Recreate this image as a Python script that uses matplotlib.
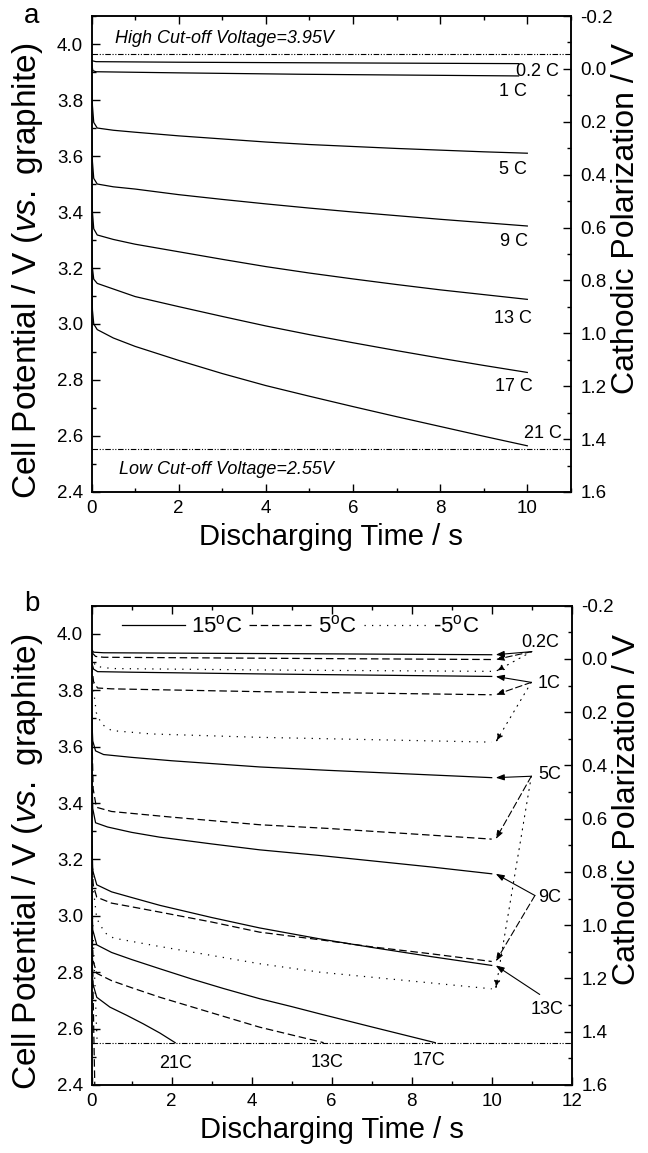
import matplotlib.pyplot as plt
from matplotlib.ticker import MultipleLocator, FormatStrFormatter

plt.rcParams['font.family'] = ['Liberation Sans', 'DejaVu Sans']
plt.rcParams['mathtext.fontset'] = 'custom'
plt.rcParams['mathtext.rm'] = 'Liberation Sans'
plt.rcParams['mathtext.it'] = 'Liberation Sans:italic'
plt.rcParams['axes.unicode_minus'] = False

# ---- panel a : 15 C, rates 0.2C ... 21C ----
a_t_02 = [0, 0.02, 0.1, 2, 5, 9.8]
a_v_02 = [3.945, 3.940, 3.937, 3.935, 3.933, 3.930]
a_t_1 = [0, 0.03, 0.1, 2, 4.8, 9.8]
a_v_1 = [3.930, 3.905, 3.901, 3.897, 3.892, 3.886]
a_t = [0, 0.02, 0.05, 0.13, 0.5, 1, 2, 3, 4, 5, 6, 7, 8, 9, 10]
a_v_5 = [3.90, 3.78, 3.72, 3.700, 3.692, 3.685, 3.672, 3.661, 3.650,
         3.641, 3.634, 3.627, 3.621, 3.615, 3.610]
a_v_9 = [3.70, 3.58, 3.52, 3.500, 3.490, 3.482, 3.462, 3.445, 3.429,
         3.414, 3.400, 3.387, 3.374, 3.362, 3.350]
a_v_13 = [3.50, 3.40, 3.34, 3.318, 3.302, 3.285, 3.258, 3.231, 3.205,
          3.182, 3.161, 3.141, 3.122, 3.105, 3.088]
a_v_17 = [3.30, 3.20, 3.16, 3.145, 3.125, 3.098, 3.062, 3.027, 2.993,
          2.962, 2.933, 2.905, 2.878, 2.852, 2.827]
a_v_21 = [3.20, 3.05, 3.00, 2.980, 2.950, 2.920, 2.870, 2.823, 2.780,
          2.742, 2.705, 2.669, 2.634, 2.599, 2.565]
a_high_cut = 3.965
a_low_cut = 2.554

# ---- panel b : 15, 5, -5 degC ----
# 15 degC (solid)
b15_t_02 = [0, 0.05, 0.3, 3, 6, 10]
b15_v_02 = [3.945, 3.935, 3.933, 3.931, 3.929, 3.926]
b15_t_1 = [0, 0.05, 0.15, 1, 4.2, 10]
b15_v_1 = [3.900, 3.875, 3.866, 3.864, 3.858, 3.849]
b15_t_5 = [0, 0.03, 0.1, 0.3, 1, 2, 4.2, 5.9, 10]
b15_v_5 = [3.72, 3.62, 3.585, 3.572, 3.562, 3.550, 3.528, 3.516, 3.490]
b15_t_9 = [0, 0.03, 0.1, 0.4, 1, 1.7, 3, 4.2, 5.7, 7, 8.5, 10]
b15_v_9 = [3.55, 3.38, 3.33, 3.315, 3.296, 3.279, 3.255, 3.234, 3.214, 3.195, 3.173, 3.149]
b15_t_13 = [0, 0.03, 0.13, 0.5, 1, 1.71, 3, 4.2, 5.71, 7, 8.5, 10]
b15_v_13 = [3.30, 3.16, 3.11, 3.085, 3.065, 3.037, 2.994, 2.957, 2.918, 2.888, 2.855, 2.824]
b15_t_17 = [0, 0.03, 0.13, 0.5, 1, 1.71, 2.5, 3.3, 4.2, 5, 5.71, 7, 8.59]
b15_v_17 = [3.10, 2.95, 2.897, 2.870, 2.845, 2.812, 2.776, 2.742, 2.706, 2.678,
            2.652, 2.606, 2.550]
b15_t_21 = [0, 0.03, 0.13, 0.46, 0.88, 1.29, 1.71, 2.09]
b15_v_21 = [2.95, 2.76, 2.711, 2.676, 2.647, 2.617, 2.584, 2.550]
# 5 degC (dashed)
b5_t_02 = [0, 0.1, 0.3, 5, 10]
b5_v_02 = [3.935, 3.920, 3.917, 3.913, 3.909]
b5_t_1 = [0, 0.05, 0.15, 0.5, 4.2, 10]
b5_v_1 = [3.890, 3.830, 3.808, 3.805, 3.795, 3.784]
b5_t_5 = [0, 0.04, 0.12, 0.5, 2, 4.2, 5.9, 10]
b5_v_5 = [3.70, 3.45, 3.385, 3.370, 3.350, 3.323, 3.310, 3.272]
b5_t_9 = [0, 0.04, 0.13, 0.5, 1, 1.71, 3, 4.2, 5.71, 7, 8.5, 10]
b5_v_9 = [3.25, 3.11, 3.066, 3.045, 3.032, 3.013, 2.978, 2.942, 2.915, 2.890, 2.865, 2.838]
b5_t_13 = [0, 0.04, 0.13, 0.5, 1, 1.71, 3, 4.2, 5.8]
b5_v_13 = [3.00, 2.84, 2.796, 2.770, 2.745, 2.711, 2.656, 2.605, 2.550]
b5_t_17 = [0, 0.03, 0.06, 0.08]
b5_v_17 = [3.05, 2.80, 2.55, 2.40]
# -5 degC (dotted)
bm5_t_02 = [0, 0.1, 0.5, 4.2, 10]
bm5_v_02 = [3.920, 3.885, 3.877, 3.872, 3.867]
bm5_t_1 = [0, 0.05, 0.12, 0.25, 0.5, 1.5, 4.2, 10]
bm5_v_1 = [3.880, 3.800, 3.720, 3.680, 3.657, 3.645, 3.633, 3.616]
bm5_t_5 = [0, 0.04, 0.13, 0.33, 0.55, 1.59, 4.2, 5.71, 10]
bm5_v_5 = [3.30, 3.10, 2.99, 2.94, 2.921, 2.894, 2.830, 2.800, 2.741]
bm5_t_9 = [0, 0.06, 0.12, 0.14]
bm5_v_9 = [3.10, 2.85, 2.62, 2.55]
b_low_cut = 2.548

SOLID = '-'
DASH = (0, (6, 3))
DOT = (0, (1, 5))
LW = 0.9

fig = plt.figure(figsize=(6.48, 11.53), dpi=100)
ax_a = fig.add_axes([0.1413, 0.5733, 0.7397, 0.4128])
ax_b = fig.add_axes([0.1413, 0.0590, 0.7410, 0.4157])


def style(ax, xmax):
    ax.set_xlim(0, xmax)
    ax.set_ylim(2.4, 4.1)
    ax.xaxis.set_major_locator(MultipleLocator(2))
    ax.xaxis.set_minor_locator(MultipleLocator(1))
    ax.yaxis.set_major_locator(MultipleLocator(0.2))
    ax.yaxis.set_minor_locator(MultipleLocator(0.1))
    ax.yaxis.set_major_formatter(FormatStrFormatter('%.1f'))
    ax.tick_params(which='both', direction='in', top=True, right=False,
                   labelsize=13.5, width=1, pad=6)
    ax.tick_params(which='major', length=5.5)
    ax.tick_params(which='minor', length=3)
    for s in ax.spines.values():
        s.set_linewidth(1.1)
    ax.set_xlabel('Discharging Time / s', fontsize=21, labelpad=4)
    ax.set_ylabel(r'Cell Potential / V ($\it{vs.}$ graphite)', fontsize=24)
    ax.yaxis.set_label_coords(-0.097, 0.465)
    tw = ax.twinx()
    tw.set_ylim(1.6, -0.2)
    tw.yaxis.set_major_locator(MultipleLocator(0.2))
    tw.yaxis.set_minor_locator(MultipleLocator(0.1))
    tw.yaxis.set_major_formatter(FormatStrFormatter('%.1f'))
    tw.tick_params(which='both', direction='in', labelsize=13.5, width=1, pad=7)
    tw.tick_params(which='major', length=5.5)
    tw.tick_params(which='minor', length=3)
    tw.set_ylabel('Cathodic Polarization / V', fontsize=23)
    tw.yaxis.set_label_coords(1.083, 0.575)
    for s in tw.spines.values():
        s.set_linewidth(1.1)
    return tw


# ---------------- panel a ----------------
style(ax_a, 11)
ax_a.plot(a_t_02, a_v_02, color='k', lw=LW)
ax_a.plot(a_t_1, a_v_1, color='k', lw=LW)
for v in (a_v_5, a_v_9, a_v_13, a_v_17, a_v_21):
    ax_a.plot(a_t, v, color='k', lw=LW)
cut = (0, (5, 1.5, 1, 1.5, 1, 1.5))
ax_a.axhline(a_high_cut, color='k', lw=0.8, ls=cut)
ax_a.axhline(a_low_cut, color='k', lw=0.8, ls=cut)
ax_a.text(0.54, 4.021, 'High Cut-off Voltage=3.95V', style='italic', fontsize=13, va='center')
ax_a.text(0.63, 2.479, 'Low Cut-off Voltage=2.55V', style='italic', fontsize=13, va='center')
ax_a.text(9.73, 3.903, '0.2 C', fontsize=13, va='center')
ax_a.text(9.35, 3.830, '1 C', fontsize=13, va='center')
ax_a.text(9.36, 3.552, '5 C', fontsize=13, va='center')
ax_a.text(9.38, 3.296, '9 C', fontsize=13, va='center')
ax_a.text(9.23, 3.020, '13 C', fontsize=13, va='center')
ax_a.text(9.26, 2.776, '17 C', fontsize=13, va='center')
ax_a.text(9.92, 2.610, '21 C', fontsize=13, va='center')
fig.text(32 / 648, 1 - 16 / 1153, 'a', fontsize=20, ha='center', va='center')

# ---------------- panel b ----------------
style(ax_b, 12)
h15, = ax_b.plot(b15_t_02, b15_v_02, color='k', lw=LW, ls=SOLID)
for t, v in ((b15_t_1, b15_v_1), (b15_t_5, b15_v_5), (b15_t_9, b15_v_9),
             (b15_t_13, b15_v_13), (b15_t_17, b15_v_17), (b15_t_21, b15_v_21)):
    ax_b.plot(t, v, color='k', lw=LW, ls=SOLID)
h5, = ax_b.plot(b5_t_02, b5_v_02, color='k', lw=LW, ls=DASH)
for t, v in ((b5_t_1, b5_v_1), (b5_t_5, b5_v_5), (b5_t_9, b5_v_9),
             (b5_t_13, b5_v_13), (b5_t_17, b5_v_17)):
    ax_b.plot(t, v, color='k', lw=LW, ls=DASH)
hm5, = ax_b.plot(bm5_t_02, bm5_v_02, color='k', lw=LW, ls=DOT)
for t, v in ((bm5_t_1, bm5_v_1), (bm5_t_5, bm5_v_5), (bm5_t_9, bm5_v_9)):
    ax_b.plot(t, v, color='k', lw=LW, ls=DOT)
ax_b.axhline(b_low_cut, color='k', lw=0.8, ls=cut)

ax_b.legend([h15, h5, hm5], [r'15$^{\rm o}$C', r'5$^{\rm o}$C', r'-5$^{\rm o}$C'],
            loc='center left', bbox_to_anchor=(0.064, 0.956), ncol=3, frameon=False,
            fontsize=16, handlelength=2.8, handletextpad=0.3, columnspacing=0.3,
            borderpad=0, borderaxespad=0)


def arrow(origin, t, v, ls):
    ax_b.annotate('', xy=(t[-1] + 0.1, v[-1]), xytext=origin,
                  arrowprops=dict(arrowstyle='-|>,head_length=0.5,head_width=0.18',
                                  lw=0.8, ls=ls, color='k', mutation_scale=10,
                                  shrinkA=0, shrinkB=0))


o02 = (11.0, 3.937)
arrow(o02, b15_t_02, b15_v_02, SOLID)
arrow(o02, b5_t_02, b5_v_02, DASH)
arrow(o02, bm5_t_02, bm5_v_02, DOT)
o1 = (10.99, 3.828)
arrow(o1, b15_t_1, b15_v_1, SOLID)
arrow(o1, b5_t_1, b5_v_1, DASH)
arrow(o1, bm5_t_1, bm5_v_1, DOT)
o5 = (10.99, 3.495)
arrow(o5, b15_t_5, b15_v_5, SOLID)
arrow(o5, b5_t_5, b5_v_5, DASH)
arrow(o5, bm5_t_5, bm5_v_5, DOT)
o9 = (11.08, 3.072)
arrow(o9, b15_t_9, b15_v_9, SOLID)
arrow(o9, b5_t_9, b5_v_9, DASH)
o13 = (11.2, 2.721)
arrow(o13, b15_t_13, b15_v_13, SOLID)

ax_b.text(11.22, 3.970, '0.2C', fontsize=13, ha='center', va='center')
ax_b.text(11.43, 3.823, '1C', fontsize=13, ha='center', va='center')
ax_b.text(11.45, 3.500, '5C', fontsize=13, ha='center', va='center')
ax_b.text(11.45, 3.066, '9C', fontsize=13, ha='center', va='center')
ax_b.text(11.39, 2.667, '13C', fontsize=13, ha='center', va='center')
ax_b.text(2.09, 2.475, '21C', fontsize=13, ha='center', va='center')
ax_b.text(5.88, 2.480, '13C', fontsize=13, ha='center', va='center')
ax_b.text(8.44, 2.487, '17C', fontsize=13, ha='center', va='center')
fig.text(32 / 648, 1 - 604 / 1153, 'b', fontsize=20, ha='center', va='center')

fig.savefig('out.png', dpi=100)
